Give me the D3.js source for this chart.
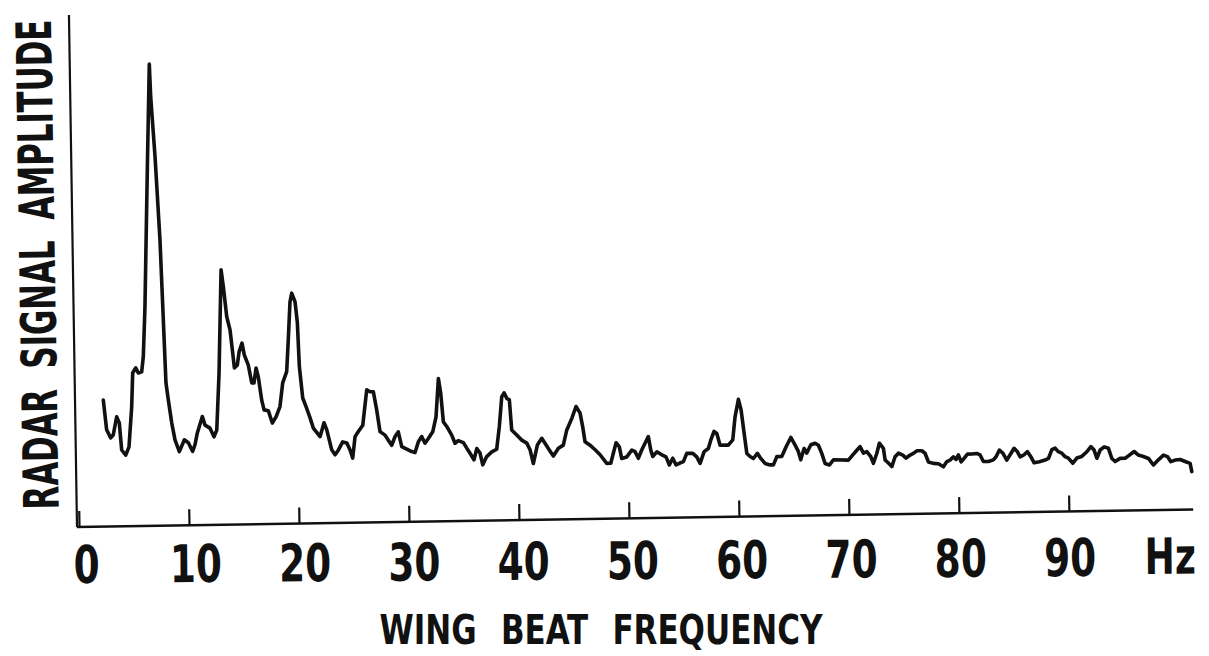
<!DOCTYPE html>
<html>
<head>
<meta charset="utf-8">
<script src="https://cdn.jsdelivr.net/npm/d3@7"></script>
<style>
  html, body { margin: 0; padding: 0; background: #fff; }
  svg { display: block; }
  .lettering {
    font-family: "DejaVu Sans Condensed", "DejaVu Sans", sans-serif;
    font-weight: bold;
    font-stretch: condensed;
    fill: #111;
  }
</style>
</head>
<body>
<svg id="chart" width="1209" height="656"></svg>
<script>
// Wing-beat spectrum: frequency (Hz) and relative radar signal amplitude (0-100)
const freqHz = [
  2.39, 2.65, 3.01, 3.25, 3.58, 3.81, 3.99, 4.35, 4.66, 4.96, 5.10, 5.38, 5.61, 5.92, 6.09, 6.31,
  6.71, 7.05, 7.13, 7.44, 7.77, 8.11, 8.30, 8.58, 8.85, 9.23, 9.70, 10.06, 10.44, 10.66, 10.89, 11.37,
  11.60, 12.05, 12.40, 12.66, 12.95, 13.28, 13.46, 13.73, 14.01, 14.22, 14.35, 14.62, 14.80, 15.08, 15.27, 15.62,
  15.91, 16.11, 16.32, 16.51, 16.79, 16.99, 17.38, 17.72, 18.07, 18.44, 18.72, 19.10, 19.29, 19.50, 19.67, 19.96,
  20.14, 20.26, 20.52, 20.81, 21.16, 21.44, 22.04, 22.42, 22.66, 23.08, 23.38, 23.68, 24.09, 24.46, 24.75, 24.98,
  25.22, 25.53, 25.94, 26.35, 26.65, 26.95, 27.23, 27.50, 27.95, 28.24, 28.54, 28.86, 29.16, 29.45, 29.90, 30.35,
  30.65, 30.97, 31.28, 31.57, 31.88, 32.29, 32.61, 32.88, 33.07, 33.27, 33.57, 34.01, 34.30, 34.60, 35.06, 35.36,
  35.65, 36.00, 36.27, 36.56, 36.79, 37.16, 37.63, 38.08, 38.35, 38.61, 38.83, 39.07, 39.30, 39.47, 39.92, 40.37,
  40.82, 41.11, 41.39, 41.78, 42.19, 42.48, 42.86, 43.22, 43.69, 44.14, 44.47, 44.95, 45.35, 45.71, 45.93, 46.12,
  46.57, 47.02, 47.47, 48.06, 48.43, 48.68, 48.94, 49.23, 49.43, 49.89, 50.36, 50.65, 50.94, 51.26, 51.57, 51.88,
  52.08, 52.25, 52.63, 53.08, 53.46, 53.75, 54.07, 54.36, 54.66, 55.03, 55.35, 55.90, 56.25, 56.55, 56.93, 57.32,
  57.55, 57.86, 58.11, 58.39, 58.84, 59.14, 59.55, 59.79, 60.12, 60.35, 60.59, 60.81, 61.10, 61.40, 61.77, 62.07,
  62.45, 62.91, 63.21, 63.53, 63.98, 64.39, 64.83, 65.21, 65.50, 65.70, 66.02, 66.26, 66.64, 67.03, 67.33, 67.62,
  67.91, 68.30, 68.67, 70.03, 70.44, 70.81, 71.11, 71.41, 71.72, 72.07, 72.30, 72.62, 72.87, 73.23, 73.37, 73.66,
  73.97, 74.28, 74.59, 74.98, 75.28, 75.65, 75.95, 76.26, 76.72, 77.01, 77.30, 77.75, 78.21, 78.66, 78.98, 79.28,
  79.58, 79.82, 80.04, 80.28, 80.55, 80.86, 81.26, 81.71, 82.01, 82.30, 82.76, 83.21, 83.46, 83.77, 84.08, 84.43,
  84.81, 85.11, 85.41, 85.65, 86.01, 86.32, 86.62, 86.91, 87.39, 87.91, 88.22, 88.54, 88.84, 89.13, 89.44, 89.74,
  90.03, 90.43, 90.80, 91.25, 91.72, 92.09, 92.38, 92.62, 92.93, 93.30, 93.69, 93.98, 94.28, 94.73, 95.19, 95.58,
  96.02, 96.40, 96.85, 97.31, 97.75, 98.21, 98.68, 99.04, 99.34, 99.73, 100.19, 100.64, 101.09, 101.23
];
const amplitude = [
  24.7, 18.9, 17.3, 17.9, 21.4, 20.2, 14.9, 13.9, 15.5, 23.3, 29.9, 30.9, 29.9, 30.1, 33.1, 42.8,
  68.9, 90.2, 83.8, 72.1, 55.8, 27.9, 24.5, 20.0, 16.7, 14.4, 16.7, 16.1, 14.4, 15.7, 18.0, 21.2,
  19.5, 18.9, 17.2, 18.5, 29.6, 49.8, 46.5, 40.6, 38.0, 33.5, 30.6, 31.1, 33.7, 35.4, 33.1, 31.1,
  27.6, 27.6, 30.5, 28.8, 24.2, 22.3, 22.1, 19.7, 20.9, 22.9, 27.5, 29.7, 35.9, 43.3, 45.0, 43.3,
  39.2, 30.6, 24.5, 22.8, 20.6, 18.6, 16.9, 19.6, 18.2, 14.3, 13.3, 14.2, 15.8, 15.6, 14.2, 12.6,
  16.8, 17.8, 19.0, 25.9, 25.5, 25.5, 21.9, 17.7, 17.0, 16.0, 15.0, 16.7, 17.6, 14.7, 14.2, 13.7,
  13.5, 15.6, 16.6, 15.3, 16.2, 17.5, 20.4, 27.9, 25.0, 19.4, 18.5, 16.8, 15.2, 15.7, 15.3, 14.2,
  13.2, 11.9, 14.1, 13.2, 10.9, 12.5, 13.4, 13.9, 18.3, 24.1, 24.9, 23.8, 23.5, 17.6, 16.6, 15.6,
  15.0, 13.7, 11.0, 14.6, 15.9, 14.9, 13.6, 12.4, 13.9, 14.5, 17.4, 19.7, 22.0, 20.7, 18.0, 15.1,
  14.4, 13.5, 12.5, 10.8, 10.8, 12.8, 14.8, 14.0, 11.7, 12.0, 13.3, 13.0, 11.7, 13.3, 14.6, 15.9,
  13.3, 12.0, 12.9, 12.3, 11.9, 10.3, 11.6, 10.3, 10.6, 10.9, 12.5, 12.5, 11.8, 10.5, 12.8, 13.4,
  15.0, 16.7, 16.3, 14.0, 14.0, 14.0, 15.0, 19.5, 22.9, 20.8, 16.3, 12.3, 11.7, 11.3, 12.3, 11.3,
  10.3, 10.0, 10.0, 11.6, 11.6, 13.5, 15.3, 13.8, 12.5, 10.9, 13.1, 12.2, 13.8, 14.1, 13.7, 12.1,
  10.1, 9.8, 10.8, 10.7, 11.7, 12.6, 13.3, 12.0, 12.3, 11.3, 10.0, 11.9, 13.9, 12.9, 10.6, 10.0,
  9.3, 11.2, 11.9, 11.5, 10.9, 11.5, 11.8, 12.3, 12.3, 11.8, 10.1, 9.8, 9.7, 9.1, 10.1, 10.4,
  11.0, 10.5, 11.4, 10.0, 10.7, 11.5, 11.5, 11.6, 11.3, 10.0, 10.0, 10.3, 10.9, 12.2, 11.6, 10.2,
  11.5, 12.5, 11.8, 10.8, 11.2, 11.8, 10.8, 9.6, 9.8, 10.1, 10.4, 12.1, 12.4, 11.7, 11.4, 10.7,
  10.4, 9.4, 10.4, 10.7, 11.6, 12.6, 11.9, 10.3, 11.9, 12.5, 12.2, 10.2, 9.6, 10.2, 10.2, 10.8,
  11.5, 10.8, 10.5, 10.1, 8.8, 9.8, 10.7, 10.4, 9.4, 9.7, 9.8, 9.4, 9.0, 7.4
];
const tickValues = [0, 10, 20, 30, 40, 50, 60, 70, 80, 90];
const unitLabel = "Hz";
const xTitle = "WING BEAT FREQUENCY";
const yTitle = "RADAR SIGNAL AMPLITUDE";

const spectrum = freqHz.map((f, i) => ({ f, a: amplitude[i] }));

const svg = d3.select("#chart");
const originX = 77, originY = 527;

const x = d3.scaleLinear().domain([0, 90]).range([79, 1069]);
const y = d3.scaleLinear().domain([0, 100]).range([originY, 15]);

// squeeze a text element along its writing direction to a target length
function fitWidth(sel, width, base) {
  const natural = sel.node().getComputedTextLength();
  sel.attr("transform", `${base} scale(${width / natural},1)`);
}

// the whole drawing sits slightly askew on the page
const plot = svg.append("g")
  .attr("transform", `rotate(-0.9, ${originX}, ${originY})`);

// tick marks point up into the plot
const tickAxis = d3.axisBottom(x)
  .tickValues(tickValues)
  .tickSizeInner(-16)
  .tickSizeOuter(0)
  .tickFormat("");

const gx = plot.append("g")
  .attr("transform", `translate(0, ${originY})`)
  .call(tickAxis);
gx.select(".domain").remove();
gx.selectAll(".tick line")
  .attr("stroke", "#111")
  .attr("stroke-width", 2.2);

// hand-lettered tick labels sit a little less askew than the axis
const labelGroup = svg.append("g")
  .attr("transform", `rotate(-0.4, ${originX}, ${originY})`);

const labelAxis = d3.axisBottom(x)
  .tickValues(tickValues)
  .tickSize(0)
  .tickPadding(19)
  .tickFormat(d3.format("d"));

const gl = labelGroup.append("g")
  .attr("transform", `translate(0, ${originY})`)
  .call(labelAxis);
gl.select(".domain").remove();
gl.selectAll(".tick text")
  .attr("class", "lettering")
  .attr("font-size", 52)
  .attr("dx", d => 8.5 - d * 0.09)
  .attr("transform", "scale(0.8,1)");

// unit label at the end of the frequency axis
labelGroup.append("text")
  .attr("class", "lettering")
  .attr("font-size", 50)
  .attr("text-anchor", "middle")
  .attr("transform", `translate(1170, ${originY + 19}) scale(0.8,1)`)
  .attr("dy", "0.71em")
  .text(unitLabel);

// axis lines
plot.append("line")
  .attr("x1", x(-0.2)).attr("x2", x(101.3))
  .attr("y1", y(0)).attr("y2", y(0))
  .attr("stroke", "#111").attr("stroke-width", 2.4);
plot.append("line")
  .attr("x1", originX).attr("x2", originX)
  .attr("y1", y(0)).attr("y2", y(100))
  .attr("stroke", "#111").attr("stroke-width", 2.2);

// spectrum trace
const line = d3.line()
  .x(d => x(d.f))
  .y(d => y(d.a))
  .curve(d3.curveLinear);

plot.append("path")
  .datum(spectrum)
  .attr("d", line)
  .attr("fill", "none")
  .attr("stroke", "#111")
  .attr("stroke-width", 3.6)
  .attr("stroke-linejoin", "round")
  .attr("stroke-linecap", "round");

// vertical axis title
const yLabel = plot.append("text")
  .attr("class", "lettering")
  .attr("font-size", 49)
  .attr("text-anchor", "middle")
  .attr("word-spacing", 14)
  .text(yTitle);
fitWidth(yLabel, 490, "translate(59, 264) rotate(-90)");

// horizontal axis title
const xLabel = svg.append("text")
  .attr("class", "lettering")
  .attr("font-size", 41)
  .attr("text-anchor", "middle")
  .attr("word-spacing", 16)
  .text(xTitle);
fitWidth(xLabel, 443, "translate(601, 644)");
</script>
</body>
</html>
